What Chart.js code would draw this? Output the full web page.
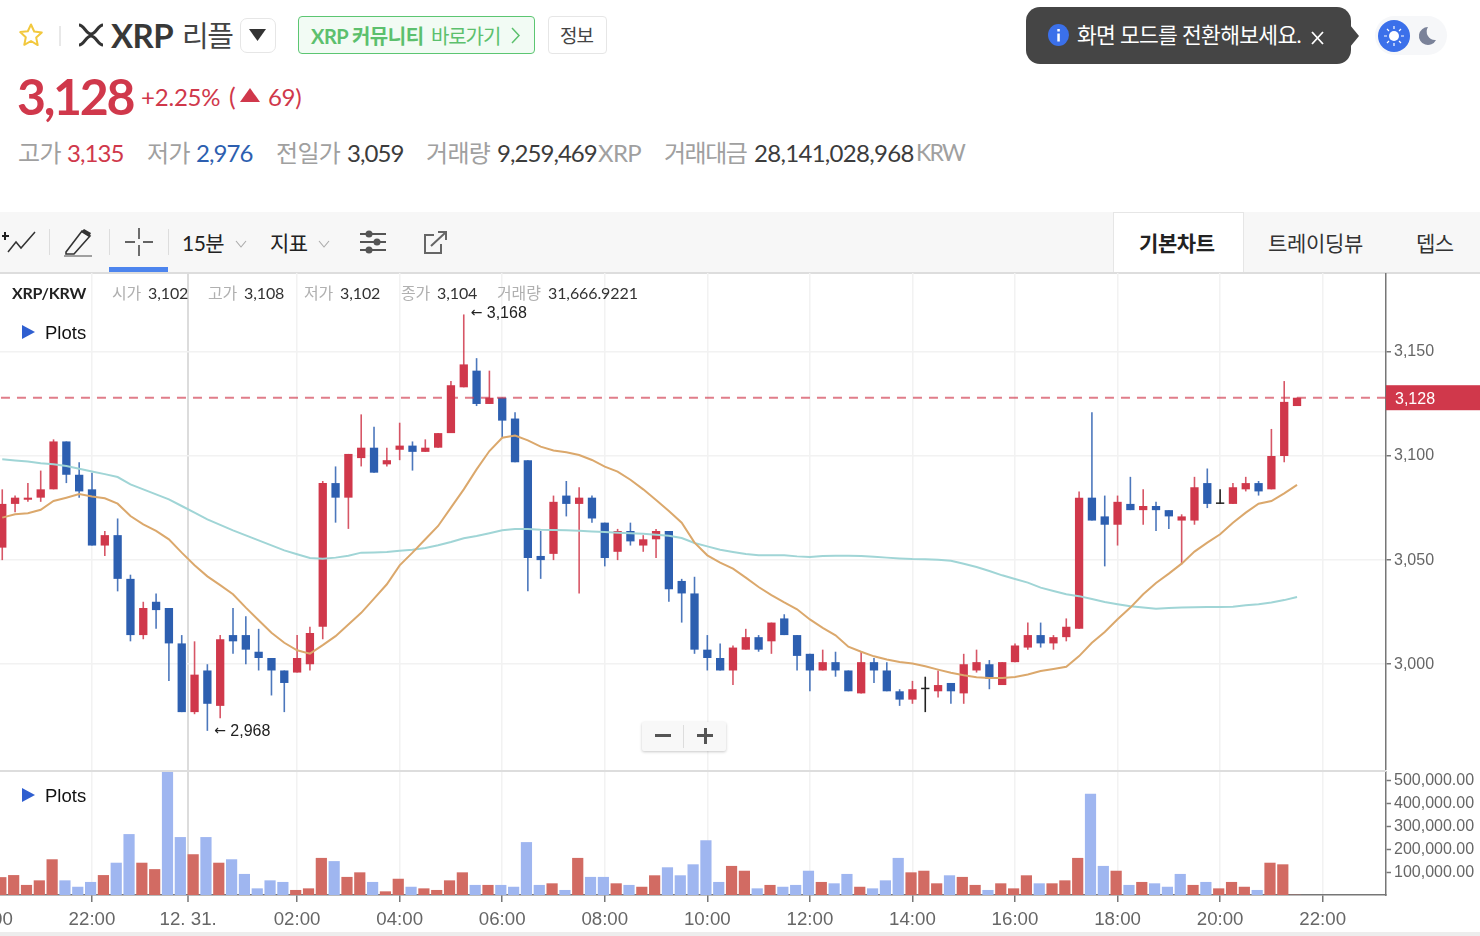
<!DOCTYPE html>
<html lang="ko">
<head>
<meta charset="utf-8">
<title>XRP/KRW</title>
<script src="https://cdn.jsdelivr.net/npm/chart.js@4"></script>
<style>
  html, body { margin: 0; padding: 0; background: #fff; overflow: hidden; }
  body { width: 1480px; height: 936px; position: relative; font-family: Lato, "Noto Sans CJK KR", sans-serif; color: #333; }
  .t { position: absolute; white-space: nowrap; line-height: 1; }
  .abs { position: absolute; }
  svg { position: absolute; overflow: visible; }
  .row { top: 141px; font-size: 24px; letter-spacing: -0.7px; }
  .row.red, .row.blue, .row.dark { letter-spacing: -0.95px; }
  .gray { color: #a0a0a0; }
  .red { color: #d0384b; }
  .blue { color: #2d5fb0; }
  .dark { color: #3c3c3c; }
  .info { top: 285px; font-size: 16px; letter-spacing: -0.1px; color: #333; }
  .info.gray { color: #b0b0b0; }
  .plots { font-family: "Liberation Sans", sans-serif; font-size: 18.5px; color: #111; }
  canvas { position: absolute; }
</style>
</head>
<body>
<!-- header -->
<svg style="left:18px;top:22px" width="26" height="26" viewBox="0 0 26 26"><path d="M13 2.5l3.2 7 7.6.9-5.6 5.2 1.5 7.5L13 19l-6.700 3.800 1.500-7.500-5.600-5.200 7.600-.9z" fill="none" stroke="#f2c83e" stroke-width="2" stroke-linejoin="round"/></svg>
<div class="abs" style="left:59px;top:26px;width:2px;height:20px;background:#e8e8e8"></div>
<svg style="left:78px;top:24px" width="26" height="22" viewBox="0 0 26 22"><path d="M1 1c5 0 7 9 12 9s7-9 12-9M1 21c5 0 7-9 12-9s7 9 12 9" fill="none" stroke="#333" stroke-width="3"/></svg>
<div class="t" style="left:111px;top:19px;font-size:33px;font-weight:700;color:#383838;letter-spacing:-0.6px">XRP</div>
<div class="t" style="left:182px;top:21px;font-size:29px;color:#444;letter-spacing:-1.5px">리플</div>
<div class="abs" style="left:240px;top:18px;width:34px;height:33px;border:1px solid #e6e6e6;border-radius:7px"></div>
<svg style="left:249px;top:29px" width="17" height="12"><path d="M0 0h17l-8.500 12z" fill="#333"/></svg>
<div class="abs" style="left:298px;top:16px;width:235px;height:36px;border:1px solid #5cc672;border-radius:4px;background:#f2fbf4"></div>
<div class="t" style="left:311px;top:26px;font-size:20px;font-weight:700;color:#5cc06d;letter-spacing:-0.5px">XRP 커뮤니티</div>
<div class="t" style="left:431px;top:26px;font-size:20px;color:#5cc06d;letter-spacing:-1.1px">바로가기</div>
<svg style="left:511px;top:27px" width="10" height="17"><path d="M1 1l7 7.500-7 7.500" fill="none" stroke="#5cc06d" stroke-width="1.500"/></svg>
<div class="abs" style="left:548px;top:16px;width:57px;height:36px;border:1px solid #e6e6e6;border-radius:4px"></div>
<div class="t" style="left:560px;top:26px;font-size:19px;color:#444;letter-spacing:-1px">정보</div>

<div class="abs" style="left:1026px;top:7px;width:325px;height:57px;background:#454545;border-radius:14px"></div>
<svg style="left:1350px;top:25px" width="10" height="22"><path d="M0 0l9 11-9 11z" fill="#454545"/></svg>
<svg style="left:1048px;top:24px" width="21" height="22"><ellipse cx="10.500" cy="11" rx="10.500" ry="11" fill="#3b70ea"/><rect x="9.300" y="9.500" width="2.500" height="8" fill="#fff"/><rect x="9.300" y="5" width="2.500" height="2.500" fill="#fff"/></svg>
<div class="t" style="left:1077px;top:25px;font-size:21.500px;color:#fff;letter-spacing:-0.7px">화면 모드를 전환해보세요.</div>
<svg style="left:1311px;top:31px" width="13" height="13"><path d="M1 1l11 12M12 1L1 13" stroke="#fff" stroke-width="1.800"/></svg>
<div class="abs" style="left:1375px;top:16px;width:72px;height:39px;border-radius:20px;background:#f6f7f9"></div>
<svg style="left:1378px;top:20px" width="32" height="32"><ellipse cx="16" cy="16" rx="16" ry="16" fill="#3b70ea"/><circle cx="16" cy="16" r="5" fill="#fff"/><path d="M16 6v3M16 23v3M6 16h3M23 16h3M9 9l2 2M21 21l2 2M9 23l2-2M21 11l2-2" stroke="#fff" stroke-width="1.200"/></svg>
<svg style="left:1419px;top:27px" width="17" height="17"><path d="M9 0a9 9 0 1 0 8 13 A8.500 8.500 0 0 1 9 0z" fill="#7a8299"/></svg>

<div class="t red" style="left:17px;top:71px;font-size:50px;font-weight:700;letter-spacing:-2.300px">3,128</div>
<div class="t red" style="left:141px;top:85px;font-size:24px;letter-spacing:-0.2px">+2.25%</div>
<div class="t red" style="left:229px;top:84px;font-size:25px">(</div>
<svg style="left:240px;top:88px" width="20" height="14"><path d="M10 0l10 14H0z" fill="#d0384b"/></svg>
<div class="t red" style="left:268px;top:85px;font-size:24px;letter-spacing:-0.3px">69)</div>

<div class="t row gray" style="left:18px">고가</div><div class="t row red" style="left:67px">3,135</div>
<div class="t row gray" style="left:147px">저가</div><div class="t row blue" style="left:196px">2,976</div>
<div class="t row gray" style="left:276px">전일가</div><div class="t row dark" style="left:347px">3,059</div>
<div class="t row gray" style="left:426px">거래량</div><div class="t row dark" style="left:497px">9,259,469</div><div class="t row gray" style="left:598px">XRP</div>
<div class="t row gray" style="left:664px;letter-spacing:-1.5px">거래대금</div><div class="t row dark" style="left:754px;letter-spacing:-0.700px">28,141,028,968</div><div class="t row gray" style="left:916px;font-size:23px;letter-spacing:-1.700px">KRW</div>

<!-- toolbar -->
<div class="abs" style="left:0;top:212px;width:1480px;height:60px;background:#f7f7f7"></div>
<div class="abs" style="left:1113px;top:212px;width:129px;height:59px;background:#fff;border:1px solid #e6e6e6;border-bottom:0"></div>
<div class="abs" style="left:0;top:272px;width:1480px;height:1.500px;background:#ddd"></div>
<svg style="left:2px;top:230px" width="34" height="24"><path d="M3 2v8M0 6h7" stroke="#222" stroke-width="2"/><path d="M6 22l8-10 5 6L33 2" fill="none" stroke="#333" stroke-width="1.500"/></svg>
<div class="abs" style="left:49px;top:229px;width:1px;height:26px;background:#ddd"></div>
<svg style="left:64px;top:228px" width="29" height="30"><path d="M2 24L18 3l8 5L10 26H2z" fill="none" stroke="#333" stroke-width="1.600"/><path d="M17 4l8 5 2-4-7-4z" fill="#333"/><path d="M0 28h28" stroke="#666" stroke-width="1.200"/></svg>
<div class="abs" style="left:109px;top:229px;width:1px;height:26px;background:#ddd"></div>
<svg style="left:125px;top:228px" width="28" height="28"><path d="M14 0v11M14 17v11M0 14h10M18 14h10" stroke="#333" stroke-width="1.400"/></svg>
<div class="abs" style="left:109px;top:267px;width:59px;height:5px;background:#4d85ee"></div>
<div class="abs" style="left:168px;top:229px;width:1px;height:26px;background:#ddd"></div>
<div class="t" style="left:182px;top:232px;font-size:21px;color:#222;letter-spacing:-0.5px">15분</div>
<svg style="left:235px;top:240px" width="12" height="8"><path d="M1 1l5 6 5-6" fill="none" stroke="#aaa" stroke-width="1.100"/></svg>
<div class="t" style="left:270px;top:232px;font-size:21px;color:#222;letter-spacing:-0.5px">지표</div>
<svg style="left:318px;top:240px" width="12" height="8"><path d="M1 1l5 6 5-6" fill="none" stroke="#aaa" stroke-width="1.100"/></svg>
<svg style="left:360px;top:229px" width="26" height="26"><path d="M0 5h26M0 13h26M0 21h26" stroke="#555" stroke-width="2"/><circle cx="9" cy="5" r="3.500" fill="#555"/><circle cx="17" cy="13" r="3.500" fill="#555"/><circle cx="9" cy="21" r="3.500" fill="#555"/></svg>
<svg style="left:424px;top:231px" width="23" height="23"><path d="M10 4H1v18h16v-9" fill="none" stroke="#666" stroke-width="2"/><path d="M7 15L21 2M14 1h8v8" fill="none" stroke="#666" stroke-width="2"/></svg>
<div class="t" style="left:1139px;top:232px;font-size:21px;font-weight:700;color:#222;letter-spacing:-0.4px">기본차트</div>
<div class="t" style="left:1268px;top:232px;font-size:21px;color:#333;letter-spacing:-0.3px">트레이딩뷰</div>
<div class="t" style="left:1416px;top:232px;font-size:21px;color:#333;letter-spacing:-0.6px">뎁스</div>

<!-- charts -->
<canvas id="priceChart" style="left:-24px;top:273px"></canvas>
<canvas id="volumeChart" style="left:-24px;top:771px"></canvas>
<div class="abs" style="left:0;top:770px;width:1386px;height:1.500px;background:#ddd"></div>
<div class="abs" style="left:0;top:932px;width:1480px;height:4px;background:#ededed"></div>

<!-- overlays -->
<div class="t" style="left:12px;top:285px;font-size:16px;font-weight:700;color:#222;letter-spacing:-0.200px">XRP/KRW</div>
<div class="t info gray" style="left:112px">시가</div><div class="t info" style="left:148px">3,102</div>
<div class="t info gray" style="left:208px">고가</div><div class="t info" style="left:244px">3,108</div>
<div class="t info gray" style="left:304px">저가</div><div class="t info" style="left:340px">3,102</div>
<div class="t info gray" style="left:401px">종가</div><div class="t info" style="left:437px">3,104</div>
<div class="t info gray" style="left:497px">거래량</div><div class="t info" style="left:548px">31,666.9221</div>
<svg style="left:22px;top:325px" width="13" height="14"><path d="M0 0l13 7-13 7z" fill="#2f5fd0"/></svg>
<div class="t plots" style="left:45px;top:324px">Plots</div>
<svg style="left:22px;top:788px" width="13" height="14"><path d="M0 0l13 7-13 7z" fill="#2f5fd0"/></svg>
<div class="t plots" style="left:45px;top:787px">Plots</div>
<div class="abs" style="left:642px;top:722px;width:84px;height:29px;background:#f8f8f8;box-shadow:0 1px 3px rgba(0,0,0,.22);border-radius:2px"></div>
<div class="abs" style="left:683px;top:725px;width:1px;height:23px;background:#ddd"></div>
<div class="abs" style="left:655px;top:734px;width:16px;height:3px;background:#555"></div>
<div class="abs" style="left:697px;top:734px;width:16px;height:3px;background:#555"></div>
<div class="abs" style="left:703.500px;top:728px;width:3px;height:16px;background:#555"></div>

<script>
// 15 minute candles, first one is 20:15, slot 0 is 22:00
const firstSlot = -7;
const opens = [3056,3077,3079,3080,3084,3107,3091,
  3084,3057,3062,3041,3014,3030,3027,3010,2977,2997,
  2980,3014,3014,3006,3003,2997,2996,3000,3018,3087,
  3080,3099,3104,3096,3103,3105,3102,3104,3111,3133,
  3141,3125,3128,3118,3098,3052,3053,3081,3077,3080,
  3068,3054,3064,3057,3060,3064,3040,3034,3007,3003,
  2997,3007,3013,3011,3022,3014,3005,2997,3001,2997,
  2986,3001,2997,2987,2983,2988,2987,2991,2986,2997,
  3000,2990,3001,3008,3014,3010,3013,3017,3080,3071,
  3067,3077,3074,3076,3074,3069,3069,3087,3077,3077,
  3084,3087,3084,3100,3124];
const highs = [3084,3081,3087,3093,3108,3107,3097,
  3092,3064,3070,3043,3030,3034,3027,3014,3011,3000,
  3014,3027,3023,3017,3003,2997,3014,3018,3088,3095,
  3101,3120,3114,3104,3116,3107,3108,3111,3136,3168,
  3147,3141,3128,3121,3098,3064,3081,3088,3085,3081,
  3068,3065,3068,3062,3065,3064,3041,3042,3014,3010,
  3009,3017,3014,3020,3024,3014,3005,3007,3006,2997,
  3006,3003,3001,2988,2992,2994,2997,2991,3005,3007,
  3002,3001,3010,3020,3020,3014,3022,3083,3121,3081,
  3081,3090,3084,3078,3074,3072,3090,3094,3084,3087,
  3090,3088,3113,3136,3128];
const lows = [3050,3073,3078,3078,3084,3087,3080,
  3057,3052,3035,3011,3012,3017,2992,2977,2976,2968,
  2974,3005,3000,2997,2985,2977,2996,2997,3012,3068,
  3065,3095,3092,3095,3098,3093,3102,3104,3111,3133,
  3124,3125,3109,3097,3035,3041,3050,3071,3034,3068,
  3047,3050,3057,3054,3051,3030,3020,3005,2997,2997,
  2990,3007,3006,3005,3014,2997,2987,2997,2994,2987,
  2986,2991,2987,2980,2981,2977,2984,2981,2981,2996,
  2988,2990,3001,3007,3008,3007,3011,3017,3069,3047,
  3057,3074,3067,3064,3065,3048,3067,3075,3077,3077,
  3083,3081,3084,3097,3124];
const closes = [3077,3080,3080,3084,3107,3091,3083,
  3057,3062,3041,3014,3027,3026,3010,2977,2995,2981,
  3012,3011,3007,3003,2997,2991,3003,3015,3087,3080,
  3101,3104,3092,3098,3105,3102,3104,3111,3134,3144,
  3125,3128,3117,3097,3051,3050,3078,3077,3080,3070,
  3051,3064,3059,3060,3064,3036,3034,3007,3003,2997,
  3008,3013,3007,3020,3014,3004,2997,3001,2997,2987,
  3001,2997,2987,2983,2988,2988,2990,2987,3000,3001,
  2993,3001,3009,3014,3010,3013,3018,3080,3069,3067,
  3078,3074,3076,3074,3071,3071,3085,3077,3077,3085,
  3087,3083,3100,3126,3128];
const maShort = [3070.4,3072,3072.5,3074.2,3078.4,3080,3081.7,
  3080.6,3079.7,3077.1,3071.2,3067.2,3064,3060,3053.6,3047.5,3042.2,
  3038,3033.6,3027.2,3021.1,3015.1,3010.3,3006.7,3005.1,3009.2,3013.5,
  3019.1,3024.7,3031.5,3038.4,3047.5,3053.6,3060,3066.4,3075.2,3084,
  3093.6,3102.4,3108.8,3109.8,3107.5,3104.5,3102.7,3101.8,3100.5,3098.1,
  3094.9,3092.5,3088.6,3084,3078.9,3073.6,3068,3058.4,3052.3,3048.8,
  3045.9,3041.6,3037.1,3033.2,3029.7,3026.4,3021.5,3017.5,3013.9,3008.4,
  3006,3003.8,3002.3,3001.1,3000.3,2999,2997.4,2995.9,2994.7,2993.7,
  2993.4,2993.4,2993.9,2995.1,2996.7,2997.7,2998.8,3003.9,3010.3,3015.5,
  3021.6,3027.2,3033.6,3039,3043.5,3048.3,3054.1,3058.4,3062.4,3068,
  3072.8,3077.1,3078.4,3082.1,3086.1];
const maLong = [3098.4,3097.9,3097.4,3096.5,3096,3095.2,3093.9,
  3092.6,3091.3,3089.9,3086.4,3084,3081.6,3079.2,3076,3072.8,3069.6,
  3066.9,3064.3,3061.9,3059.5,3057.1,3054.7,3052.8,3051,3050.7,3051.2,
  3052.1,3053.6,3053.7,3053.9,3054.5,3055,3055.8,3057.1,3058.7,3060.5,
  3061.6,3062.9,3064.3,3064.9,3064.9,3064.6,3064.5,3064.3,3064.1,3063.8,
  3063.5,3063.2,3062.9,3062.7,3062.2,3061.7,3060.6,3058.2,3056.6,3055,
  3053.9,3052.9,3052.3,3052.4,3052.3,3051.8,3051.5,3052,3052.1,3052.1,
  3052,3051.6,3051.2,3050.8,3050.5,3050.4,3050.2,3049.7,3048.3,3046.7,
  3044.8,3042.7,3040.9,3039.2,3036.8,3035.2,3033.6,3032.7,3031.3,3029.9,
  3028.8,3027.8,3027.2,3026.7,3027,3027.3,3027.4,3027.5,3027.5,3027.6,
  3028.3,3028.8,3029.6,3030.8,3032.3];
const volumes = [78000,87000,44000,64000,156000,64000,36000,
  57000,87000,141000,266000,141000,113000,545000,253000,178000,253000,
  141000,156000,92000,29000,64000,57000,22000,29000,162000,148000,
  79000,99000,57000,16000,71000,36000,29000,22000,64000,99000,
  44000,44000,44000,36000,231000,44000,51000,22000,162000,79000,
  79000,51000,44000,36000,86000,121000,86000,134000,239000,57000,
  127000,106000,29000,44000,36000,44000,106000,57000,51000,92000,
  36000,29000,64000,162000,99000,106000,51000,86000,79000,44000,
  22000,51000,29000,86000,51000,51000,64000,162000,442000,127000,
  106000,44000,57000,51000,36000,92000,44000,57000,29000,57000,
  36000,22000,141000,134000,1000];
const volumeDirs = ['u','u','u','u','u','d','d',
  'd','u','d','d','u','u','d','d','u','d',
  'u','d','d','d','d','d','u','u','u','d',
  'u','u','d','u','u','d','u','u','u','u',
  'd','u','d','d','d','d','u','d','u','d',
  'd','u','d','u','u','d','d','d','d','d',
  'u','u','d','u','d','d','d','u','d','d',
  'u','d','d','d','u','u','u','d','u','u',
  'd','u','u','u','d','u','u','u','d','d',
  'u','d','u','d','d','d','u','d','u','u',
  'u','d','u','u','u'];
const lastPrice = 3128;
const priceTicks = [3000, 3050, 3100, 3150];
const volumeTicks = [100000, 200000, 300000, 400000, 500000];
const xTickSlots = [-8, 0, 7.5, 16, 24, 32, 40, 48, 56, 64, 72, 80, 88, 96];
const xTickLabels = ['20:00', '22:00', '12. 31.', '02:00', '04:00', '06:00', '08:00', '10:00', '12:00', '14:00', '16:00', '18:00', '20:00', '22:00'];

const RED = '#d0384b', BLUE = '#2d5fb0', BLACK = '#222';
const VOL_RED = '#d26b63', VOL_BLUE = '#9fb6f0';
const AXIS = '#777', GRID = '#f2f2f2', LABEL = '#666';
const axisFont = { family: '"Liberation Sans", sans-serif', size: 16 };

const slots = opens.map((_, i) => i + firstSlot);
const candleColor = (i) => closes[i] > opens[i] ? RED : closes[i] < opens[i] ? BLUE : BLACK;
const wickColor = (i) => closes[i] > opens[i] ? 'rgba(208,56,75,.85)' : closes[i] < opens[i] ? 'rgba(45,95,176,.85)' : BLACK;

// both charts share this x axis so the grids line up
function xAxis(showLabels) {
  return {
    type: 'linear',
    offset: false,
    min: -9.048,
    max: 100.94,
    afterBuildTicks(s) { s.ticks = xTickSlots.map(v => ({ value: v })); },
    afterFit(s) { s.paddingLeft = 0; s.paddingRight = 0; s.height = showLabels ? 41 : 0; },
    border: { display: showLabels, color: AXIS, width: 1.5 },
    grid: {
      offset: false,
      color: c => c.tick && c.tick.value === 7.5 ? '#dcdcdc' : GRID,
      lineWidth: c => c.tick && c.tick.value === 7.5 ? 2 : 1.5,
      drawTicks: showLabels,
      tickLength: 7,
      tickColor: AXIS,
      tickWidth: 1.5
    },
    ticks: {
      display: showLabels,
      autoSkip: false,
      maxRotation: 0,
      padding: 7,
      color: LABEL,
      font: { family: '"Liberation Sans", sans-serif', size: 18.7 },
      callback: v => xTickLabels[xTickSlots.indexOf(v)]
    }
  };
}

function yAxis(extra) {
  return Object.assign({
    position: 'right',
    afterFit(s) { s.width = 94; s.paddingTop = 0; s.paddingBottom = 0; },
    border: { color: AXIS, width: 1.5 },
    ticks: { padding: 3, color: LABEL, font: axisFont }
  }, extra);
}

// price tag on the axis, the high and low notes
const priceNotes = {
  id: 'priceNotes',
  afterDatasetsDraw(chart) {
    const { ctx, scales: { x, y }, chartArea } = chart;
    const py = y.getPixelForValue(lastPrice);
    ctx.save();
    ctx.fillStyle = RED;
    ctx.fillRect(chartArea.right, py - 12.5, 94, 25);
    ctx.font = '16px "Liberation Sans", sans-serif';
    ctx.textBaseline = 'middle';
    ctx.fillStyle = '#fff';
    ctx.fillText(lastPrice.toLocaleString('en-US'), chartArea.right + 9, py + 1.5);
    const hi = Math.max(...highs), lo = Math.min(...lows);
    [[hi, highs.indexOf(hi), -1], [lo, lows.indexOf(lo), 1]].forEach(([v, i, dy]) => {
      const px = x.getPixelForValue(slots[i]) + 7, vy = y.getPixelForValue(v) + dy;
      ctx.fillStyle = '#222';
      ctx.font = '14px "DejaVu Sans", sans-serif';
      ctx.fillText('←', px, vy);
      ctx.font = '16px "Liberation Sans", sans-serif';
      ctx.fillText(v.toLocaleString('en-US'), px + 16, vy);
    });
    ctx.restore();
  }
};

Chart.defaults.animation = false;
Chart.defaults.responsive = false;
Chart.defaults.events = [];
Chart.defaults.plugins.legend.display = false;
Chart.defaults.plugins.tooltip.enabled = false;

const priceEl = document.getElementById('priceChart');
priceEl.width = 1504; priceEl.height = 497;
new Chart(priceEl, {
  type: 'bar',
  plugins: [priceNotes],
  data: {
    datasets: [
      { type: 'line', order: 0, data: slots.map((s, i) => ({ x: s, y: maShort[i] })), borderColor: '#dba86c', borderWidth: 2, pointRadius: 0 },
      { type: 'line', order: 1, data: slots.map((s, i) => ({ x: s, y: maLong[i] })), borderColor: '#a0d5d6', borderWidth: 2, pointRadius: 0 },
      { type: 'line', order: 2, data: [{ x: -7.1, y: lastPrice }, { x: 100.94, y: lastPrice }], borderColor: 'rgba(208,56,75,.65)', borderWidth: 2, borderDash: [9, 7], pointRadius: 0 },
      { order: 3, grouped: false, barThickness: 8.3, minBarLength: 1.5, inflateAmount: 0,
        data: slots.map((s, i) => ({ x: s, y: [opens[i], closes[i]] })),
        backgroundColor: slots.map((_, i) => candleColor(i)) },
      { order: 4, grouped: false, barThickness: 1.6, inflateAmount: 0,
        data: slots.map((s, i) => ({ x: s, y: [lows[i], highs[i]] })),
        backgroundColor: slots.map((_, i) => wickColor(i)) }
    ]
  },
  options: {
    layout: { padding: 0 },
    scales: {
      x: xAxis(false),
      y: yAxis({
        min: 2949.2,
        max: 3187.9,
        afterBuildTicks(s) { s.ticks = priceTicks.map(v => ({ value: v })); },
        grid: { color: GRID, lineWidth: 1.5, tickLength: 5, tickColor: AXIS, tickWidth: 1.5 }
      })
    }
  }
});

const volumeEl = document.getElementById('volumeChart');
volumeEl.width = 1504; volumeEl.height = 165;
new Chart(volumeEl, {
  type: 'bar',
  data: {
    datasets: [{
      barThickness: 11.2,
      inflateAmount: 0,
      // bars sit a touch left of the candles in the original
      data: slots.map((s, i) => ({ x: s - 0.11, y: volumes[i] })),
      backgroundColor: volumeDirs.map(d => d === 'u' ? VOL_RED : VOL_BLUE)
    }]
  },
  options: {
    layout: { padding: 0 },
    scales: {
      x: xAxis(true),
      y: yAxis({
        min: 0,
        max: 541500,
        afterBuildTicks(s) { s.ticks = volumeTicks.map(v => ({ value: v })); },
        grid: { drawOnChartArea: false, tickLength: 5, tickColor: AXIS, tickWidth: 1.5 },
        ticks: {
          padding: 3, color: LABEL, font: axisFont,
          callback: v => v.toLocaleString('en-US', { minimumFractionDigits: 2 })
        }
      })
    }
  }
});
</script>
</body>
</html>
